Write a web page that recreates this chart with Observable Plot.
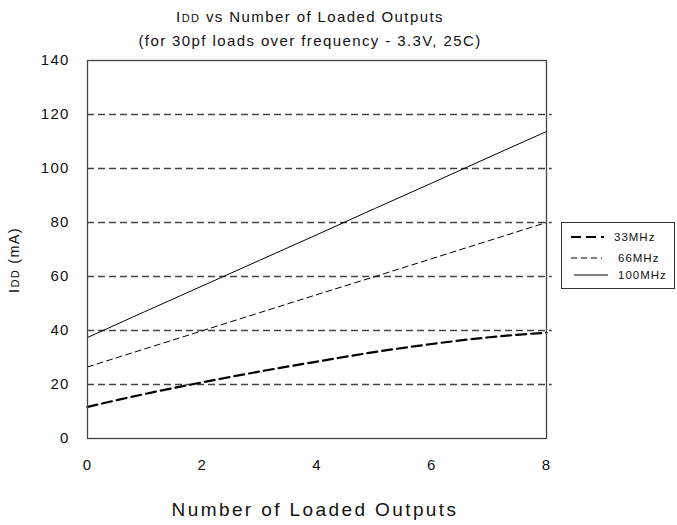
<!DOCTYPE html>
<html>
<head>
<meta charset="utf-8">
<script src="https://cdn.jsdelivr.net/npm/d3@7"></script>
<script src="https://cdn.jsdelivr.net/npm/@observablehq/plot@0.6"></script>
<style>
  html, body { margin: 0; padding: 0; background: #fff; }
  #wrap { position: relative; width: 677px; height: 525px; font-family: "Liberation Sans", Arial, sans-serif; color: #111; }
  .ttl { position: absolute; left: 0; width: 620px; text-align: center; font-size: 15px; letter-spacing: 1.4px; }
  .sc { font-size: 11px; }
  #xlab { position: absolute; left: 0; width: 630px; top: 499px; text-align: center; font-size: 19px; letter-spacing: 2.4px; }
  #legend { position: absolute; left: 561px; top: 222px; width: 112px; height: 65px; border: 1px solid #333; background: #fff; }
</style>
</head>
<body>
<div id="wrap">
  <div class="ttl" style="top:8px">I<span class="sc">DD</span> vs Number of Loaded Outputs</div>
  <div class="ttl" style="top:32px">(for 30pf loads over frequency - 3.3V, 25C)</div>
  <div id="chart"></div>
  <div id="xlab">Number of Loaded Outputs</div>
  <div id="legend"></div>
</div>
<script>
// Number of loaded outputs
const outputs = [0, 1, 2, 3, 4, 5, 6, 7, 8];
// IDD (mA) per frequency
const idd33 = [11.7, 16.5, 20.8, 24.8, 28.5, 32.0, 35.0, 37.5, 39.2];
const idd66 = [26.5, 33.2, 39.9, 46.6, 53.3, 59.9, 66.6, 73.3, 80.0];
const idd100 = [37.4, 47.0, 56.5, 66.0, 75.5, 85.1, 94.6, 104.2, 113.7];
const seriesNames = ["33MHz", "66MHz", "100MHz"];
const xTicks = [0, 2, 4, 6, 8];
const yTicks = [0, 20, 40, 60, 80, 100, 120, 140];
const gridValues = [20, 40, 60, 80, 100, 120];

const styles = {
  "33MHz": {strokeWidth: 2.2, dash: "10,5", curve: "monotone-x"},
  "66MHz": {strokeWidth: 1, dash: "6,4", curve: "linear"},
  "100MHz": {strokeWidth: 1, dash: null, curve: "linear"}
};
const seriesData = {"33MHz": idd33, "66MHz": idd66, "100MHz": idd100};
const rows = seriesNames.flatMap(s => outputs.map((x, i) => ({series: s, x, y: seriesData[s][i]})));

const lineMarks = seriesNames.map(s => Plot.line(rows.filter(r => r.series === s), {
  x: "x", y: "y", stroke: "#000", strokeWidth: styles[s].strokeWidth,
  strokeDasharray: styles[s].dash, curve: styles[s].curve
}));

const chart = Plot.plot({
  width: 677,
  height: 525,
  marginTop: 60,
  marginBottom: 87,
  marginLeft: 87,
  marginRight: 131,
  style: {fontFamily: "Liberation Sans, Arial, sans-serif", fontSize: "15px", letterSpacing: "1.2px", color: "#111", background: "#fff"},
  x: {domain: [0, 8], ticks: xTicks, tickSize: 0, tickPadding: 21, label: null, tickFormat: d => String(d)},
  y: {domain: [0, 140], ticks: yTicks, tickSize: 0, tickPadding: 18, label: null, tickFormat: d => String(d)},
  marks: [
    Plot.ruleY(gridValues, {y: d => d, x1: 0, x2: 8.1, stroke: "#444", strokeWidth: 1.3, strokeDasharray: "7,4"}),
    ...lineMarks,
    Plot.frame({stroke: "#444", strokeWidth: 1.3})
  ]
});
document.getElementById("chart").appendChild(chart);

// Y axis title with small-caps subscript
const svg = d3.select(chart);
const yl = svg.append("text")
  .attr("transform", "translate(19,260) rotate(-90)")
  .attr("text-anchor", "middle")
  .attr("font-size", 14.5)
  .attr("letter-spacing", "1.3px")
  .attr("fill", "#111");
yl.append("tspan").text("I");
yl.append("tspan").attr("font-size", 11).text("DD");
yl.append("tspan").text(" (mA)");

// Legend
const lg = d3.select("#legend").append("svg").attr("width", 112).attr("height", 65);
const legendRows = [
  {name: "33MHz", y: 14, x1: 9, x2: 42, tx: 52},
  {name: "66MHz", y: 35, x1: 9, x2: 40, tx: 56},
  {name: "100MHz", y: 52, x1: 12, x2: 46, tx: 56}
];
legendRows.forEach(r => {
  lg.append("line").attr("x1", r.x1).attr("x2", r.x2).attr("y1", r.y).attr("y2", r.y)
    .attr("stroke", "#000").attr("stroke-width", styles[r.name].strokeWidth)
    .attr("stroke-dasharray", styles[r.name].dash);
  lg.append("text").attr("x", r.tx).attr("y", r.y + 4).text(r.name)
    .attr("font-size", 11.5).attr("letter-spacing", "1px").attr("fill", "#111")
    .attr("font-family", "Liberation Sans, Arial, sans-serif");
});
</script>
</body>
</html>
